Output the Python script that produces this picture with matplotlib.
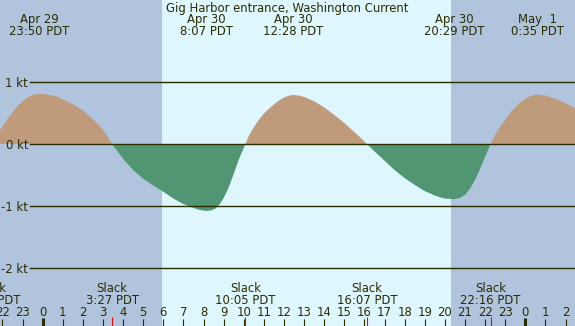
import matplotlib
matplotlib.use("Agg")
from matplotlib import pyplot as plt
import matplotlib.transforms as mtransforms

# current speed (hours from midnight Apr 30, knots)
hours = [-2.6, -2.25, -2.0, -1.75, -1.5, -1.25, -1.0, -0.75, -0.5, -0.17, 0.25, 0.5, 0.75,
         1.0, 1.25, 1.5, 1.75, 2.0, 2.25, 2.5, 2.75, 3.0, 3.25, 3.45,
         3.75, 4.0, 4.5, 5.0, 5.5, 6.0, 6.5, 7.0, 7.5, 7.75, 8.12, 8.4, 8.6, 8.8, 9.0,
         9.25, 9.5, 9.75, 10.08,
         10.25, 10.5, 10.75, 11.0, 11.25, 11.5, 11.75, 12.0, 12.25, 12.47, 12.75, 13.0,
         13.5, 14.0, 14.5, 15.0, 15.5, 15.75, 16.12,
         16.5, 17.0, 17.5, 18.0, 18.5, 19.0, 19.5, 19.75, 20.0, 20.48, 20.75, 21.0,
         21.25, 21.5, 21.75, 22.0, 22.27,
         22.5, 22.75, 23.0, 23.25, 23.5, 23.75, 24.0, 24.25, 24.58, 25.0, 25.5, 26.0, 26.5]
knots = [0.0, 0.17, 0.28, 0.40, 0.51, 0.61, 0.69, 0.75, 0.79, 0.81, 0.80, 0.78, 0.76,
         0.72, 0.68, 0.64, 0.59, 0.54, 0.47, 0.40, 0.32, 0.23, 0.11, 0.0,
         -0.13, -0.24, -0.42, -0.56, -0.67, -0.77, -0.88, -0.97, -1.03, -1.06, -1.08, -1.07, -1.04, -0.97, -0.87,
         -0.70, -0.48, -0.25, 0.0,
         0.13, 0.27, 0.39, 0.49, 0.57, 0.64, 0.70, 0.75, 0.78, 0.79, 0.78, 0.76,
         0.69, 0.59, 0.47, 0.34, 0.19, 0.12, 0.0,
         -0.12, -0.27, -0.42, -0.55, -0.66, -0.76, -0.83, -0.86, -0.88, -0.89, -0.87, -0.82,
         -0.72, -0.58, -0.40, -0.21, 0.0,
         0.15, 0.28, 0.39, 0.50, 0.59, 0.67, 0.73, 0.77, 0.80, 0.78, 0.73, 0.66, 0.57]

# max flood / ebb events
peak_hours = [-0.17, 8.12, 12.47, 20.48, 24.58]
peak_labels = ["Apr 29\n23:50 PDT", "Apr 30\n8:07 PDT", "Apr 30\n12:28 PDT",
               "Apr 30\n20:29 PDT", "May  1\n0:35 PDT"]

# slack events
slack_hours = [-2.6, 3.45, 10.08, 16.12, 22.27]
slack_labels = ["21:24 PDT", "3:27 PDT", "10:05 PDT", "16:07 PDT", "22:16 PDT"]

sunrise, sunset = 5.92, 20.30
kt_levels = [1, 0, -1, -2]
tick_hours = list(range(-2, 27))

W, H = 575, 326
x0, pxh = 42.7, 20.11   # pixel of midnight, pixels per hour
y0, pxk = 144, 62       # pixel of 0 kt, pixels per knot

night = "#b0c4de"
day = "#def6fe"
flood = "#bf9b7b"
ebb = "#519573"
ink = "#2b2b00"
fs = 8.4

fig = plt.figure(figsize=(W / 100, H / 100), dpi=100)
ax = fig.add_axes([0, 0, 1, 1])
ax.set_xlim(-x0 / pxh, (W - x0) / pxh)
ax.set_ylim((y0 - H) / pxk, y0 / pxk)
ax.axis("off")
fig.patch.set_facecolor(night)

xmin, xmax = ax.get_xlim()
ax.axvspan(xmin, sunrise, color=night, lw=0, zorder=0)
ax.axvspan(sunrise, sunset, color=day, lw=0, zorder=0)
ax.axvspan(sunset, xmax, color=night, lw=0, zorder=0)

ax.fill_between(hours, knots, 0, where=[k >= 0 for k in knots], interpolate=True,
                color=flood, lw=0, zorder=1)
ax.fill_between(hours, knots, 0, where=[k <= 0 for k in knots], interpolate=True,
                color=ebb, lw=0, zorder=1)

# knot lines and labels
for k in kt_levels:
    ax.plot([(30 - x0) / pxh, xmax], [k, k], color=ink, lw=1.0, zorder=2)
    ax.text((28 - x0) / pxh, k - 5 / pxk, "%d kt" % k, ha="right", va="baseline",
            fontsize=fs, color=ink, zorder=3)

trans = mtransforms.blended_transform_factory(ax.transData, ax.transAxes)


def fy(py):
    return 1 - py / H


ax.text(0.5, fy(12), "Gig Harbor entrance, Washington Current", transform=ax.transAxes,
        ha="center", va="baseline", fontsize=fs, color=ink)

for h, lab in zip(peak_hours, peak_labels):
    top, bottom = lab.split("\n")
    ax.text(h, fy(23.5), top, transform=trans, ha="center", va="baseline", fontsize=fs, color=ink)
    ax.text(h, fy(35), bottom, transform=trans, ha="center", va="baseline", fontsize=fs, color=ink)

for h, lab in zip(slack_hours, slack_labels):
    ax.text(h, fy(292), "Slack", transform=trans, ha="center", va="baseline", fontsize=fs, color=ink)
    ax.text(h, fy(304), lab, transform=trans, ha="center", va="baseline", fontsize=fs, color=ink)

for h in tick_hours:
    ax.text(h, fy(316), str(h % 24), transform=trans, ha="center", va="baseline",
            fontsize=fs, color=ink)
    if h % 24 == 0:
        ax.plot([h, h], [0, fy(318)], transform=trans, color=ink, lw=2.2, solid_capstyle="butt")
    else:
        ax.plot([h, h], [0, fy(319)], transform=trans, color=ink, lw=0.8, solid_capstyle="butt")

for h in slack_hours:
    ax.plot([h, h], [0, fy(317)], transform=trans, color="red", lw=0.8, solid_capstyle="butt")

fig.savefig("out.png", dpi=100, facecolor=fig.get_facecolor())
